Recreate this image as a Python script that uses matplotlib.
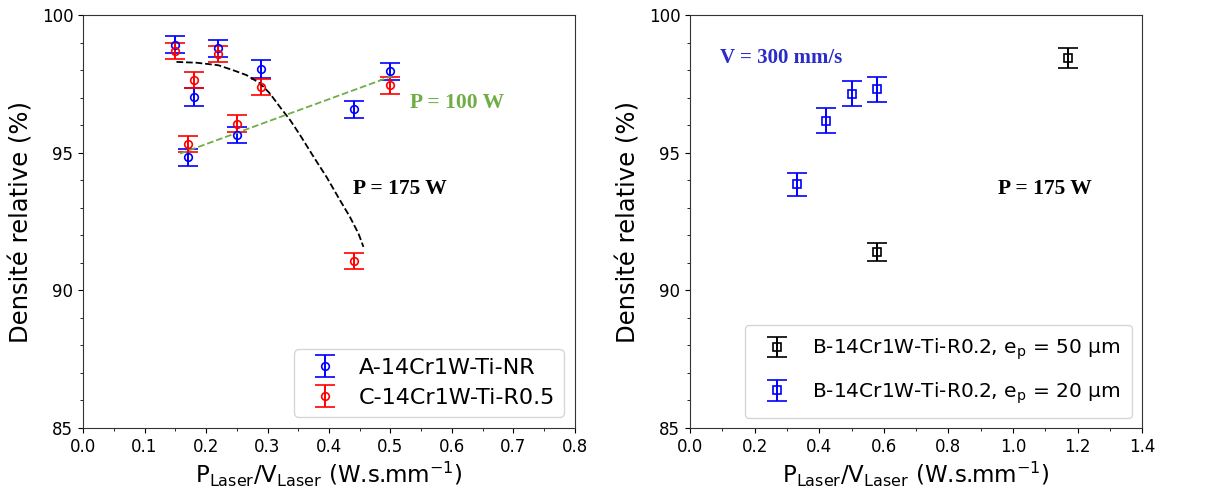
import numpy as np
import matplotlib
matplotlib.use("Agg")
import matplotlib.pyplot as plt
from matplotlib.ticker import MultipleLocator

# --- left panel data
xA = [0.15, 0.18, 0.17, 0.22, 0.25, 0.29, 0.44, 0.50]
yA = [98.93, 97.03, 94.83, 98.79, 95.64, 98.04, 96.58, 97.96]
eA = [0.32, 0.32, 0.30, 0.32, 0.30, 0.32, 0.30, 0.30]
xC = [0.15, 0.18, 0.17, 0.22, 0.25, 0.29, 0.44, 0.50]
yC = [98.70, 97.64, 95.31, 98.58, 96.06, 97.39, 91.07, 97.45]
eC = [0.30, 0.30, 0.30, 0.30, 0.30, 0.30, 0.30, 0.30]

# trend lines (hand drawn in the original)
x175 = [0.152, 0.185, 0.220, 0.244, 0.266, 0.288, 0.304, 0.320,
        0.337, 0.353, 0.375, 0.396, 0.418, 0.434, 0.448, 0.456]
y175 = [98.30, 98.27, 98.18, 98.00, 97.82, 97.52, 97.15, 96.67,
        96.18, 95.64, 94.85, 94.12, 93.27, 92.67, 92.06, 91.58]
x100 = [0.158, 0.502]
y100 = [94.97, 97.78]

# --- right panel data
xB50 = [1.17, 0.58]
yB50 = [98.43, 91.39]
eB50 = [0.36, 0.32]
xB20 = [0.33, 0.42, 0.50, 0.58]
yB20 = [93.85, 96.16, 97.15, 97.30]
eB20 = [0.42, 0.45, 0.45, 0.45]

xlab = r'$\mathregular{P_{Laser}/V_{Laser}}$ (W.s.mm$^{-1}$)'
ylab = 'Densité relative (%)'
serif = ['Liberation Serif', 'DejaVu Serif']

fig = plt.figure(figsize=(12.1, 4.88), dpi=100)
ax1 = fig.add_axes([0.0686, 0.123, 0.4066, 0.846])
ax2 = fig.add_axes([0.5703, 0.123, 0.3736, 0.846])

eb = dict(linestyle='none', capsize=7, elinewidth=1.4, capthick=1.4,
          markersize=5.5, markerfacecolor='none', markeredgewidth=1.2)

ax1.errorbar(xA, yA, yerr=eA, marker='o', color='b', label='A-14Cr1W-Ti-NR', **eb)
ax1.errorbar(xC, yC, yerr=eC, marker='o', color='r', label='C-14Cr1W-Ti-R0.5', **eb)
ax1.plot(x175, y175, color='k', ls='--', lw=1.3)
ax1.plot(x100, y100, color='#70ad47', ls='--', lw=1.3)
ax1.text(0.532, 96.8, 'P = 100 W', color='#70ad47', fontsize=15.5,
         fontweight='bold', family=serif, va='center')
ax1.text(0.439, 93.67, 'P = 175 W', color='k', fontsize=15.5,
         fontweight='bold', family=serif, va='center')
ax1.set_xlim(0, 0.8)
ax1.xaxis.set_major_locator(MultipleLocator(0.1))
ax1.xaxis.set_minor_locator(MultipleLocator(0.05))
ax1.legend(loc='lower right', fontsize=16, handletextpad=0.5,
           labelspacing=0.45, borderaxespad=0.5)

ax2.errorbar(xB50, yB50, yerr=eB50, marker='s', color='k',
             label=r'B-14Cr1W-Ti-R0.2, e$_\mathregular{p}$ = 50 µm', **eb)
ax2.errorbar(xB20, yB20, yerr=eB20, marker='s', color='b',
             label=r'B-14Cr1W-Ti-R0.2, e$_\mathregular{p}$ = 20 µm', **eb)
ax2.text(0.093, 98.43, 'V = 300 mm/s', color='#2b2bcc', fontsize=15,
         fontweight='bold', family=serif, va='center')
ax2.text(0.954, 93.67, 'P = 175 W', color='k', fontsize=15.5,
         fontweight='bold', family=serif, va='center')
ax2.set_xlim(0, 1.4)
ax2.xaxis.set_major_locator(MultipleLocator(0.2))
ax2.xaxis.set_minor_locator(MultipleLocator(0.1))
ax2.legend(loc='lower right', fontsize=14.5, handletextpad=0.7,
           labelspacing=0.9, borderpad=0.6, borderaxespad=0.5)

for ax in (ax1, ax2):
    ax.set_ylim(85, 100)
    ax.yaxis.set_major_locator(MultipleLocator(5))
    ax.yaxis.set_minor_locator(MultipleLocator(1))
    ax.tick_params(labelsize=12)
    ax.set_xlabel(xlab, fontsize=16.5, labelpad=3)
    ax.set_ylabel(ylab, fontsize=17.5, labelpad=6)
    for s in ax.spines.values():
        s.set_color('#333333')

fig.savefig('out.png', dpi=100)
